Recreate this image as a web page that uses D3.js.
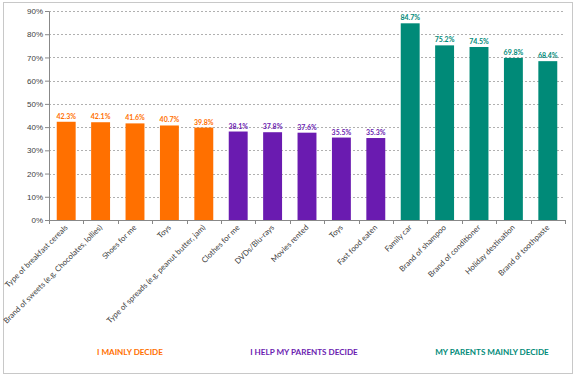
<!DOCTYPE html>
<html>
<head>
<meta charset="utf-8">
<script src="https://cdn.jsdelivr.net/npm/d3@7"></script>
<style>
  body { margin: 0; background: #fff; }
  svg { font-family: Lato, "Open Sans", sans-serif; }
</style>
</head>
<body>
<div id="chart"></div>
<script>
const categories = [
    "Type of breakfast cereals",
    "Brand of sweets (e.g. Chocolates, lollies)",
    "Shoes for me",
    "Toys",
    "Type of spreads (e.g. peanut butter, jam)",
    "Clothes for me",
    "DVDs/Blu-rays",
    "Movies rented",
    "Toys",
    "Fast food eaten",
    "Family car",
    "Brand of shampoo",
    "Brand of conditioner",
    "Holiday destination",
    "Brand of toothpaste"
];
const values = [42.3, 42.1, 41.6, 40.7, 39.8, 38.1, 37.8, 37.6, 35.5, 35.3, 84.7, 75.2, 74.5, 69.8, 68.4];
const groupOf = [0, 0, 0, 0, 0, 1, 1, 1, 1, 1, 2, 2, 2, 2, 2];
const groupNames = ["I MAINLY DECIDE", "I HELP MY PARENTS DECIDE", "MY PARENTS MAINLY DECIDE"];
const groupColors = ["#ff7000", "#6a1bb0", "#008a78"];
const yTicks = [0, 10, 20, 30, 40, 50, 60, 70, 80, 90];

const W = 576, H = 377;
const margin = { top: 11, right: 11, bottom: 157, left: 49 };
const width = W - margin.left - margin.right;
const height = H - margin.top - margin.bottom;
const groupLabelShift = [-5, -3, 13]; // titles sit a bit off-centre in the original

const svg = d3.select("#chart")
    .append("svg")
    .attr("width", W)
    .attr("height", H);

// outer frame
svg.append("rect")
    .attr("x", 3.5).attr("y", 2.5)
    .attr("width", 569).attr("height", 371)
    .attr("fill", "none")
    .attr("stroke", "#c8c8c8")
    .attr("stroke-width", 1);

const g = svg.append("g")
    .attr("transform", `translate(${margin.left},${margin.top})`);

const x = d3.scaleBand()
    .domain(d3.range(categories.length))
    .range([0, width])
    .paddingInner(0.45)
    .paddingOuter(0.225);

const y = d3.scaleLinear()
    .domain([0, 90])
    .range([height, 0]);

// gridlines
g.selectAll(".grid")
    .data(yTicks.slice(1))
    .enter().append("line")
    .attr("x1", 0).attr("x2", width)
    .attr("y1", d => Math.round(y(d)) + 0.5)
    .attr("y2", d => Math.round(y(d)) + 0.5)
    .attr("stroke", "#b0b0b0")
    .attr("stroke-dasharray", "2,2");

// y axis
const yAxis = g.append("g")
    .call(d3.axisLeft(y).tickValues(yTicks).tickFormat(d => d + "%").tickSize(4).tickSizeOuter(0));
yAxis.select(".domain").attr("stroke", "#888");
yAxis.selectAll(".tick line").attr("stroke", "#888");
yAxis.selectAll(".tick text")
    .attr("fill", "#404040")
    .style("font-size", "8px")
    .attr("x", -6);

// bars
g.selectAll(".bar")
    .data(values)
    .enter().append("rect")
    .attr("x", (d, i) => x(i))
    .attr("y", d => y(d))
    .attr("width", x.bandwidth())
    .attr("height", d => height - y(d))
    .attr("fill", (d, i) => groupColors[groupOf[i]]);

// value labels
g.selectAll(".val")
    .data(values)
    .enter().append("text")
    .attr("x", (d, i) => x(i) + x.bandwidth() / 2)
    .attr("y", d => y(d) - 3)
    .attr("text-anchor", "middle")
    .attr("fill", (d, i) => groupColors[groupOf[i]])
    .style("font-size", "7px")
    .style("font-weight", "bold")
    .text(d => d.toFixed(1) + "%");

// x axis with ticks at band edges
const step = x.step();
g.append("line")
    .attr("x1", 0).attr("x2", width)
    .attr("y1", height + 0.5).attr("y2", height + 0.5)
    .attr("stroke", "#888");
g.selectAll(".xtick")
    .data(d3.range(categories.length + 1))
    .enter().append("line")
    .attr("x1", i => Math.round(i * step) + 0.5)
    .attr("x2", i => Math.round(i * step) + 0.5)
    .attr("y1", height).attr("y2", height + 4)
    .attr("stroke", "#888");

// rotated category labels
g.selectAll(".xlab")
    .data(categories)
    .enter().append("text")
    .attr("transform", (d, i) => `translate(${x(i) + x.bandwidth() / 2 + 2},${height + 8}) rotate(-45)`)
    .attr("text-anchor", "end")
    .attr("fill", "#404040")
    .style("font-size", "7.8px")
    .text(d => d);

// group titles
groupNames.forEach((name, k) => {
    const idx = d3.range(categories.length).filter(i => groupOf[i] === k);
    const cx = (x(idx[0]) + x(idx[idx.length - 1]) + x.bandwidth()) / 2 + groupLabelShift[k];
    g.append("text")
        .attr("x", cx)
        .attr("y", 344)
        .attr("text-anchor", "middle")
        .attr("fill", groupColors[k])
        .style("font-size", "8.1px")
        .style("font-weight", "bold")
        .text(name);
});
</script>
</body>
</html>
